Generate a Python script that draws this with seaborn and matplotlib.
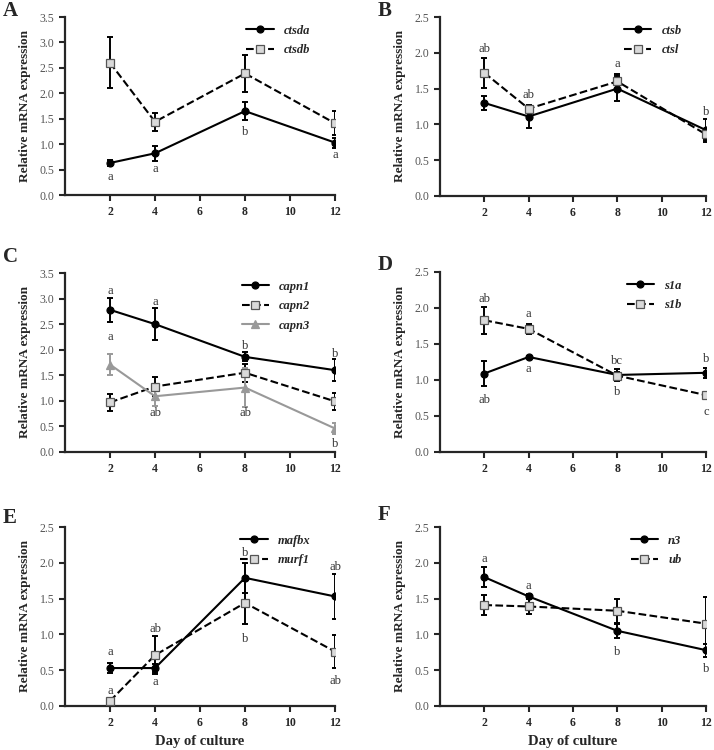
import numpy as np
import seaborn as sns
import matplotlib.pyplot as plt

sns.set_style("ticks")
plt.rcParams['font.family'] = ['Liberation Serif', 'DejaVu Serif']

days = [2, 4, 8, 12]

# A
ctsda = [0.63, 0.82, 1.65, 1.03]
ctsda_err = [0.06, 0.15, 0.17, 0.10]
ctsdb = [2.60, 1.44, 2.39, 1.41]
ctsdb_err = [0.50, 0.18, 0.37, 0.24]
# B
ctsb = [1.30, 1.11, 1.50, 0.92]
ctsb_err = [0.10, 0.16, 0.18, 0.16]
ctsl = [1.72, 1.22, 1.60, 0.86]
ctsl_err = [0.21, 0.04, 0.10, 0.08]
# C
capn1 = [2.78, 2.50, 1.86, 1.60]
capn1_err = [0.23, 0.31, 0.09, 0.21]
capn2 = [0.97, 1.28, 1.55, 0.99]
capn2_err = [0.17, 0.19, 0.18, 0.16]
capn3 = [1.71, 1.09, 1.26, 0.46]
capn3_err = [0.21, 0.20, 0.38, 0.10]
# D
s1a = [1.09, 1.32, 1.07, 1.10]
s1a_err = [0.18, 0.02, 0.08, 0.07]
s1b = [1.83, 1.71, 1.06, 0.79]
s1b_err = [0.19, 0.07, 0.05, 0.02]
# E
mafbx = [0.53, 0.53, 1.79, 1.53]
mafbx_err = [0.07, 0.05, 0.21, 0.31]
murf1 = [0.07, 0.71, 1.44, 0.76]
murf1_err = [0.02, 0.27, 0.30, 0.23]
# F
n3 = [1.80, 1.53, 1.05, 0.78]
n3_err = [0.14, 0.04, 0.10, 0.09]
ub = [1.41, 1.39, 1.33, 1.15]
ub_err = [0.14, 0.11, 0.17, 0.37]

# significance letters (day, y, letter)
letters_A = [(2, 0.36, 'a'), (4, 0.52, 'a'), (8, 1.24, 'b'), (12, 0.78, 'a')]
letters_B = [(2, 2.06, 'ab'), (4, 1.41, 'ab'), (8, 1.85, 'a'), (12, 1.18, 'b')]
letters_C = [(2, 3.15, 'a'), (4, 2.94, 'a'), (8, 2.07, 'b'), (12, 1.91, 'b'),
             (2, 2.24, 'a'), (4, 0.77, 'ab'), (8, 0.77, 'ab'), (12, 0.15, 'b')]
letters_D = [(2, 2.13, 'ab'), (4, 1.91, 'a'), (8, 1.27, 'bc'), (12, 0.55, 'c'),
             (2, 0.72, 'ab'), (4, 1.15, 'a'), (8, 0.84, 'b'), (12, 1.29, 'b')]
letters_E = [(2, 0.75, 'a'), (2, 0.21, 'a'), (4, 1.08, 'ab'), (4, 0.33, 'a'),
             (8, 2.13, 'b'), (8, 0.93, 'b'), (12, 1.94, 'ab'), (12, 0.35, 'ab')]
letters_F = [(2, 2.06, 'a'), (4, 1.67, 'a'), (8, 0.76, 'b'), (12, 0.52, 'b')]

solid = dict(color='black', ls='-', marker='o', mfc='black', mec='black', ms=5, ecol='black')
dashed = dict(color='black', ls='--', marker='s', mfc='#d9d9d9', mec='#555555', ms=6, ecol='black')
grey = dict(color='#999999', ls='-', marker='^', mfc='#999999', mec='#999999', ms=6, ecol='#999999')

fig = plt.figure(figsize=(7.14, 7.5), dpi=100)

W, H = 714, 750
panels = [
    ('A', 65, 335, 17, 195, 3.5, [(ctsda, ctsda_err, 'ctsda', solid), (ctsdb, ctsdb_err, 'ctsdb', dashed)], letters_A, False),
    ('B', 440, 706, 17, 196, 2.5, [(ctsb, ctsb_err, 'ctsb', solid), (ctsl, ctsl_err, 'ctsl', dashed)], letters_B, False),
    ('C', 65, 335, 273, 452, 3.5, [(capn1, capn1_err, 'capn1', solid), (capn2, capn2_err, 'capn2', dashed),
                                   (capn3, capn3_err, 'capn3', grey)], letters_C, False),
    ('D', 440, 706, 272, 452, 2.5, [(s1a, s1a_err, 's1a', solid), (s1b, s1b_err, 's1b', dashed)], letters_D, False),
    ('E', 65, 335, 527, 706, 2.5, [(mafbx, mafbx_err, 'mafbx', solid), (murf1, murf1_err, 'murf1', dashed)], letters_E, True),
    ('F', 440, 706, 527, 706, 2.5, [(n3, n3_err, 'n3', solid), (ub, ub_err, 'ub', dashed)], letters_F, True),
]
letter_pos = {'A': (3, 11), 'B': (378, 11), 'C': (3, 257), 'D': (378, 265), 'E': (3, 518), 'F': (378, 515)}

for tag, left, right, top, bottom, ymax, series, letters, xlab in panels:
    ax = fig.add_axes([left / W, 1 - bottom / H, (right - left) / W, (bottom - top) / H])
    for vals, err, name, st in series:
        ax.errorbar(days, vals, yerr=err, fmt='none', ecolor=st['ecol'],
                    elinewidth=1.4, capsize=2.5, capthick=1.4, zorder=2)
        sns.lineplot(x=days, y=vals, ax=ax, color=st['color'], linestyle=st['ls'],
                     linewidth=1.5, marker=st['marker'], markersize=st['ms'],
                     markerfacecolor=st['mfc'], markeredgecolor=st['mec'],
                     markeredgewidth=0.9, label=name, zorder=3)
    for d, y, t in letters:
        ax.text(d, y, t, ha='center', va='center', fontsize=9, color='#333333')
    ax.set_xlim(0, 12)
    ax.set_ylim(0, ymax)
    ax.set_xticks([2, 4, 6, 8, 10, 12])
    yt = np.arange(0, ymax + 0.01, 0.5)
    ax.set_yticks(yt)
    ax.set_yticklabels([f'{v:.1f}' for v in yt])
    ax.tick_params(axis='x', labelsize=8.5, width=1.5, length=4, pad=4)
    ax.tick_params(axis='y', labelsize=8.5, width=1.5, length=4, labelcolor='#555555')
    for lab in ax.get_xticklabels():
        lab.set_fontweight('bold')
    sns.despine(ax=ax)
    for s in ['left', 'bottom']:
        ax.spines[s].set_linewidth(1.6)
    ax.set_ylabel('Relative mRNA expression', fontsize=9.5, fontweight='bold', labelpad=6)
    if xlab:
        ax.set_xlabel('Day of culture', fontsize=10.5, fontweight='bold', labelpad=4)
    else:
        ax.set_xlabel('')
    ax.legend(loc='upper right', frameon=False, handlelength=2.2,
              bbox_to_anchor=(0.95, 1.02), prop={'style': 'italic', 'weight': 'bold', 'size': 9},
              labelspacing=0.6)
    lx, ly = letter_pos[tag]
    fig.text(lx / W, 1 - ly / H, tag, fontsize=15, fontweight='bold', va='center', ha='left')

fig.savefig('out.png', dpi=100)
